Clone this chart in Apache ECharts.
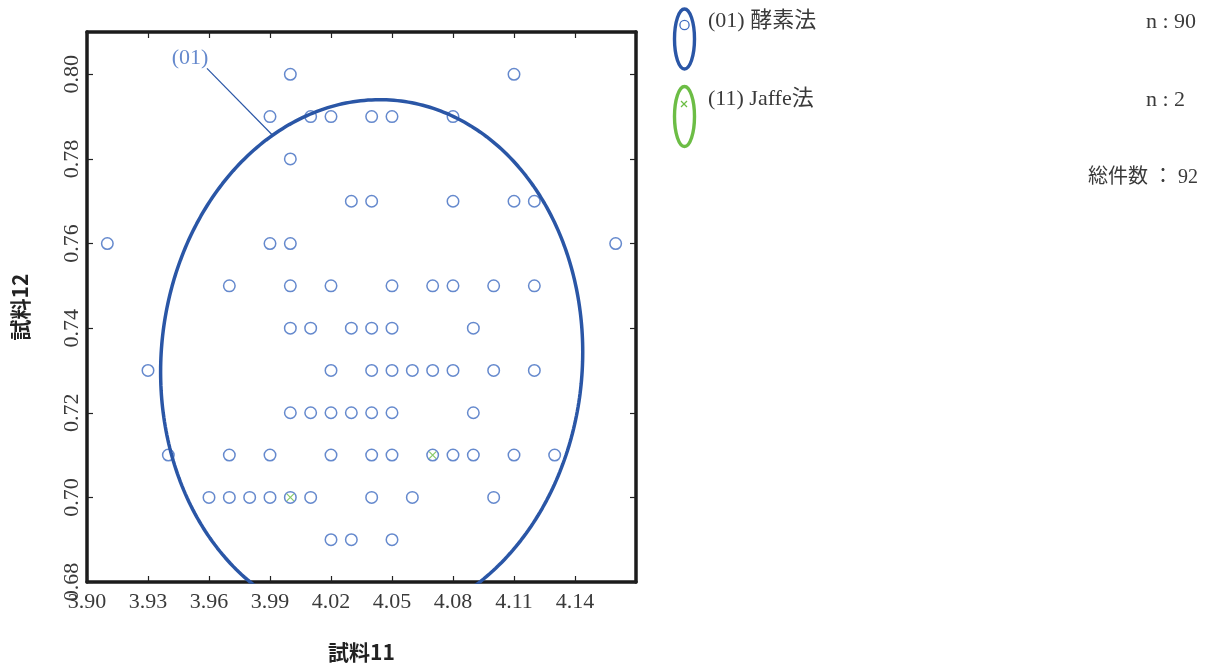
<!DOCTYPE html>
<html>
<head>
<meta charset="utf-8">
<script src="https://cdn.jsdelivr.net/npm/echarts@6/dist/echarts.min.js"></script>
<style>
  html, body { margin: 0; padding: 0; background: #ffffff; }
  #chart { width: 1218px; height: 668px; }
</style>
</head>
<body>
<div id="chart"></div>
<script>
// 試料11 (x) / 試料12 (y) measurements, (01) 酵素法
const enzymeX = [
  4.00, 4.11,
  3.99, 4.01, 4.02, 4.04, 4.05, 4.08,
  4.00,
  4.03, 4.04, 4.08, 4.11, 4.12,
  3.91, 3.99, 4.00, 4.16,
  3.97, 4.00, 4.02, 4.05, 4.07, 4.08, 4.10, 4.12,
  4.00, 4.01, 4.03, 4.04, 4.05, 4.09,
  3.93, 4.02, 4.04, 4.05, 4.06, 4.07, 4.08, 4.10, 4.12,
  4.00, 4.01, 4.02, 4.03, 4.04, 4.05, 4.09,
  3.94, 3.97, 3.99, 4.02, 4.04, 4.05, 4.07, 4.08, 4.09, 4.11, 4.13,
  3.96, 3.97, 3.98, 3.99, 4.00, 4.01, 4.04, 4.06, 4.10,
  4.02, 4.03, 4.05
];
const enzymeY = [
  0.80, 0.80,
  0.79, 0.79, 0.79, 0.79, 0.79, 0.79,
  0.78,
  0.77, 0.77, 0.77, 0.77, 0.77,
  0.76, 0.76, 0.76, 0.76,
  0.75, 0.75, 0.75, 0.75, 0.75, 0.75, 0.75, 0.75,
  0.74, 0.74, 0.74, 0.74, 0.74, 0.74,
  0.73, 0.73, 0.73, 0.73, 0.73, 0.73, 0.73, 0.73, 0.73,
  0.72, 0.72, 0.72, 0.72, 0.72, 0.72, 0.72,
  0.71, 0.71, 0.71, 0.71, 0.71, 0.71, 0.71, 0.71, 0.71, 0.71, 0.71,
  0.70, 0.70, 0.70, 0.70, 0.70, 0.70, 0.70, 0.70, 0.70,
  0.69, 0.69, 0.69
];

// (11) Jaffe法
const jaffeX = [4.00, 4.07];
const jaffeY = [0.70, 0.71];

// Axis ticks
const xTicks = [3.90, 3.93, 3.96, 3.99, 4.02, 4.05, 4.08, 4.11, 4.14];
const yTicks = [0.68, 0.70, 0.72, 0.74, 0.76, 0.78, 0.80];
const xMax = 4.17;
const yMax = 0.81;

// Probability ellipse of group (01): centre, spreads, correlation
const ellipseCenter = [4.040, 0.732];
const ellipseSpread = [0.1038, 0.0620];
const ellipseRho = 0.038;

// Legend counts
const groupNames = ['(01) 酵素法', '(11) Jaffe法'];
const groupCounts = [90, 2];
const totalCount = 92;

const BLUE_LINE = '#2a56a6';
const BLUE_MARK = '#3f6cc0';
const GREEN = '#6cbd45';
const SERIF = "'Liberation Serif', 'Noto Sans CJK JP', serif";

// point on the ellipse at parameter angle (degrees)
function ellipsePoint(deg) {
  const t = deg * Math.PI / 180;
  const c = Math.cos(t), s = Math.sin(t);
  return [
    ellipseCenter[0] + ellipseSpread[0] * c,
    ellipseCenter[1] + ellipseSpread[1] * (ellipseRho * c + Math.sqrt(1 - ellipseRho * ellipseRho) * s)
  ];
}
const ellipseLine = [];
for (let d = 0; d <= 360; d += 1) ellipseLine.push(ellipsePoint(d));

const enzymeData = enzymeX.map((x, i) => [x, enzymeY[i]]);
const jaffeData = jaffeX.map((x, i) => [x, jaffeY[i]]);

// leader line from the "(01)" tag to the ellipse
const tagPos = [3.9507, 0.8037];
const leader = [[3.959, 0.8014], ellipsePoint(118)];

const xStep = +(xTicks[1] - xTicks[0]).toFixed(2);
const yStep = +(yTicks[1] - yTicks[0]).toFixed(2);

const tickStyle = { show: true, inside: true, length: 6, lineStyle: { color: '#222', width: 1.2 } };
const frameLine = { show: true, onZero: false, lineStyle: { color: '#1c1c1c', width: 3.5 } };

const chart = echarts.init(document.getElementById('chart'), null, { renderer: 'canvas' });

chart.setOption({
  animation: false,
  backgroundColor: '#ffffff',
  grid: { left: 87, top: 32, width: 549, height: 550, containLabel: false },
  xAxis: [
    {
      type: 'value', position: 'bottom',
      min: xTicks[0], max: xMax, interval: xStep,
      name: '試料11', nameLocation: 'middle', nameGap: 60,
      nameTextStyle: { fontFamily: "'Noto Sans CJK JP', sans-serif", fontWeight: 'bold', fontSize: 21, color: '#222' },
      axisLine: frameLine, axisTick: tickStyle, splitLine: { show: false },
      axisLabel: {
        show: true, margin: 9, fontFamily: SERIF, fontSize: 22, color: '#3a3a3a',
        showMaxLabel: false, formatter: v => v.toFixed(2)
      }
    },
    {
      type: 'value', position: 'top',
      min: xTicks[0], max: xMax, interval: xStep,
      axisLine: frameLine, axisTick: tickStyle, splitLine: { show: false },
      axisLabel: { show: false }
    }
  ],
  yAxis: [
    {
      type: 'value', position: 'left',
      min: yTicks[0], max: yMax, interval: yStep,
      name: '試料12', nameLocation: 'middle', nameGap: 56,
      nameTextStyle: { fontFamily: "'Noto Sans CJK JP', sans-serif", fontWeight: 'bold', fontSize: 21, color: '#222' },
      axisLine: frameLine, axisTick: tickStyle, splitLine: { show: false },
      axisLabel: {
        show: true, rotate: 90, margin: 4, fontFamily: SERIF, fontSize: 22, color: '#3a3a3a',
        showMaxLabel: false, formatter: v => v.toFixed(2)
      }
    },
    {
      type: 'value', position: 'right',
      min: yTicks[0], max: yMax, interval: yStep,
      axisLine: frameLine, axisTick: tickStyle, splitLine: { show: false },
      axisLabel: { show: false }
    }
  ],
  series: [
    {
      name: groupNames[0], type: 'scatter', data: enzymeData,
      symbol: 'circle', symbolSize: 11.5,
      itemStyle: { color: 'rgba(255,255,255,0)', borderColor: BLUE_MARK, borderWidth: 1.5 },
      z: 3
    },
    {
      name: groupNames[1], type: 'scatter', data: jaffeData,
      symbol: 'path://M0,0L10,10M10,0L0,10', symbolSize: 7,
      itemStyle: { color: 'none', borderColor: GREEN, borderWidth: 1.2 },
      z: 4
    },
    {
      type: 'line', data: ellipseLine, showSymbol: false, symbol: 'none', clip: true,
      lineStyle: { color: BLUE_LINE, width: 3.5 }, z: 5, silent: true
    },
    {
      type: 'line', data: leader, showSymbol: false, symbol: 'none', clip: true,
      lineStyle: { color: BLUE_LINE, width: 1.2 }, z: 5, silent: true
    },
    {
      type: 'scatter', data: [tagPos], symbolSize: 0, silent: true, z: 6,
      label: {
        show: true, position: 'inside', formatter: '(01)',
        fontFamily: SERIF, fontSize: 22, color: BLUE_MARK
      }
    }
  ],
  graphic: [
    { type: 'ellipse', shape: { cx: 684.5, cy: 39, rx: 10, ry: 30 },
      style: { fill: 'none', stroke: BLUE_LINE, lineWidth: 3.4 } },
    { type: 'circle', shape: { cx: 684.5, cy: 25, r: 4.6 },
      style: { fill: 'none', stroke: BLUE_MARK, lineWidth: 1.3 } },
    { type: 'text', x: 708, y: 21,
      style: { text: groupNames[0], font: '22px ' + SERIF, fill: '#3a3a3a', verticalAlign: 'middle' } },
    { type: 'text', x: 1146, y: 22,
      style: { text: 'n : ' + groupCounts[0], font: '22px ' + SERIF, fill: '#3a3a3a', verticalAlign: 'middle' } },

    { type: 'ellipse', shape: { cx: 684.5, cy: 116.5, rx: 10, ry: 30 },
      style: { fill: 'none', stroke: GREEN, lineWidth: 3.4 } },
    { type: 'line', shape: { x1: 681, y1: 101, x2: 687, y2: 107 }, style: { stroke: GREEN, lineWidth: 1.2 } },
    { type: 'line', shape: { x1: 687, y1: 101, x2: 681, y2: 107 }, style: { stroke: GREEN, lineWidth: 1.2 } },
    { type: 'text', x: 708, y: 99,
      style: { text: groupNames[1], font: '22px ' + SERIF, fill: '#3a3a3a', verticalAlign: 'middle' } },
    { type: 'text', x: 1146, y: 100,
      style: { text: 'n : ' + groupCounts[1], font: '22px ' + SERIF, fill: '#3a3a3a', verticalAlign: 'middle' } },

    { type: 'text', x: 1088, y: 178,
      style: { text: '総件数 ： ' + totalCount, font: '20px ' + SERIF, fill: '#3a3a3a', verticalAlign: 'middle' } }
  ]
});
</script>
</body>
</html>
